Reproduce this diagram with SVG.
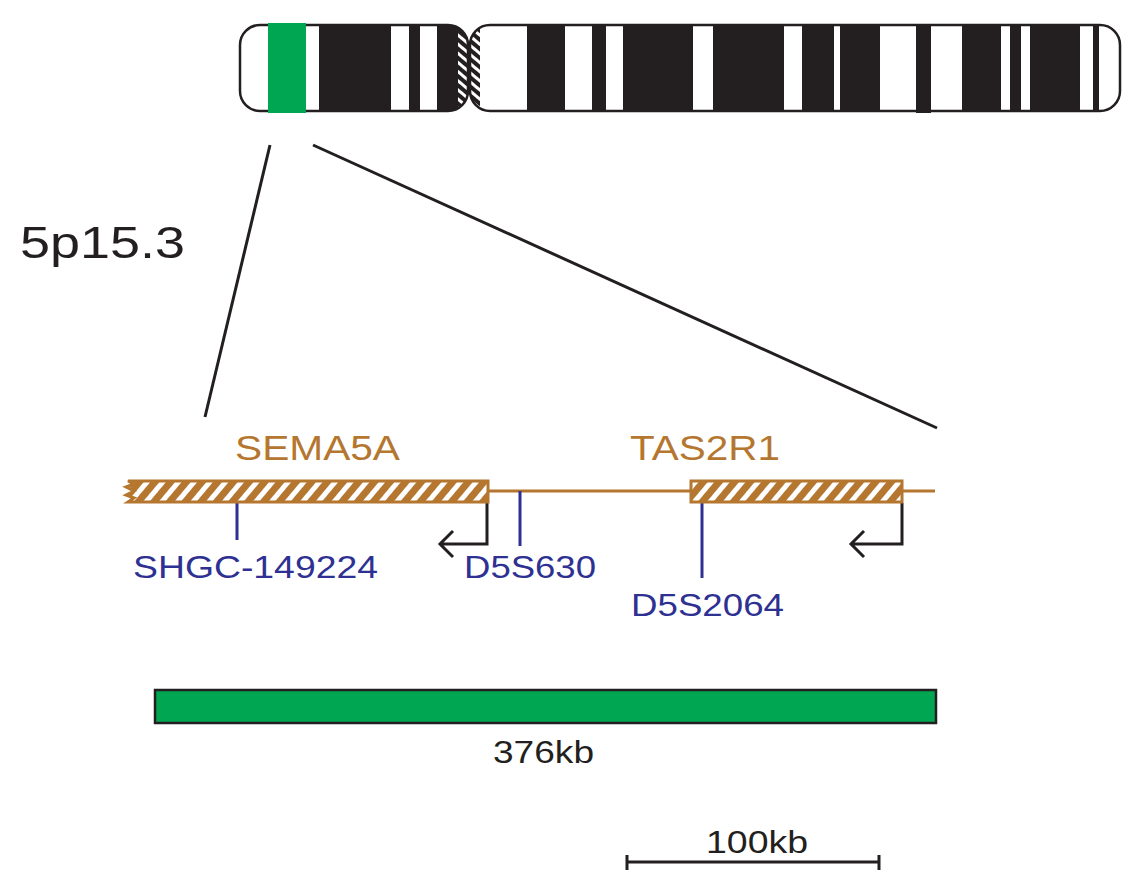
<svg xmlns="http://www.w3.org/2000/svg" width="1147" height="893" viewBox="0 0 1147 893">
<style>
.k{fill:#231f20}
.t{font-family:"Helvetica","Liberation Sans",Arial,sans-serif}
.b{fill:#2e3192;font-size:31px}
.g{fill:#b5772f;font-size:35px}
.bl{stroke:#2e3192;stroke-width:3}
.ar{fill:none;stroke:#231f20;stroke-width:3}
</style>
<defs>
<pattern id="h" width="12" height="12" patternUnits="userSpaceOnUse" patternTransform="rotate(40)">
<rect width="12" height="12" fill="#b5772f"/><rect width="5" height="12" fill="#fff"/>
</pattern>
<pattern id="hk" width="7" height="7" patternUnits="userSpaceOnUse" patternTransform="rotate(-50)">
<rect width="7" height="7" fill="#231f20"/><rect width="3" height="7" fill="#fff"/>
</pattern>
<clipPath id="la"><rect x="240" y="25" width="228" height="86" rx="20"/></clipPath>
<clipPath id="ra"><rect x="470" y="25" width="650" height="86" rx="20"/></clipPath>
</defs>
<g id="chromosome">
<g clip-path="url(#la)">
<rect x="240" y="25" width="228" height="86" fill="#fff"/>
<rect class="k" x="319" y="25" width="72" height="86"/>
<rect class="k" x="409" y="25" width="11" height="86"/>
<rect class="k" x="437" y="25" width="22" height="86"/>
<rect fill="url(#hk)" x="458" y="25" width="10" height="86"/>
</g>
<rect x="240" y="25" width="228" height="86" rx="20" fill="none" stroke="#231f20" stroke-width="2.5"/>
<g clip-path="url(#ra)">
<rect x="470" y="25" width="650" height="86" fill="#fff"/>
<rect fill="url(#hk)" x="470" y="25" width="10" height="86"/>
<rect class="k" x="527" y="25" width="38" height="86"/>
<rect class="k" x="592" y="25" width="14" height="86"/>
<rect class="k" x="623" y="25" width="70" height="86"/>
<rect class="k" x="713" y="25" width="71" height="86"/>
<rect class="k" x="802" y="25" width="32" height="86"/>
<rect class="k" x="840" y="25" width="40" height="86"/>
<rect class="k" x="916" y="25" width="15" height="86"/>
<rect class="k" x="962" y="25" width="39" height="86"/>
<rect class="k" x="1010" y="25" width="11" height="86"/>
<rect class="k" x="1030" y="25" width="50" height="86"/>
<rect class="k" x="1093" y="25" width="6" height="86"/>
</g>
<rect x="470" y="25" width="650" height="86" rx="20" fill="none" stroke="#231f20" stroke-width="2.5"/>
<rect class="k" x="916" y="105" width="15" height="8"/>
<rect x="268" y="23" width="38" height="90" fill="#00a651"/>
</g>
<g id="connectors">
<line x1="270" y1="145" x2="205" y2="417" stroke="#231f20" stroke-width="3"/>
<line x1="313" y1="145" x2="937" y2="428" stroke="#231f20" stroke-width="3"/>
<line x1="489" y1="491" x2="935" y2="491" stroke="#b5772f" stroke-width="3"/>
<line class="bl" x1="237" y1="503" x2="237" y2="540"/>
<line class="bl" x1="520" y1="491" x2="520" y2="546"/>
<line class="bl" x1="702" y1="503" x2="702" y2="578"/>
<path class="ar" d="M487 503V544H440M453 531L440 544L453 557"/>
<path class="ar" d="M902 503V544H851M864 531L851 544L864 557"/>
<path d="M627 862H879M627 855V870M879 855V870" stroke="#231f20" stroke-width="3" fill="none"/>
</g>
<g id="sema5a">
<path d="M128 481H488V502H128L134 498L126 495L134 491L126 487L134 484Z" fill="url(#h)" stroke="#b5772f" stroke-width="3"/>
<text class="t g" x="235" y="460" textLength="165" lengthAdjust="spacingAndGlyphs">SEMA5A</text>
</g>
<g id="tas2r1">
<rect x="691" y="481" width="211" height="21" fill="url(#h)" stroke="#b5772f" stroke-width="3"/>
<text class="t g" x="630" y="460" textLength="150" lengthAdjust="spacingAndGlyphs">TAS2R1</text>
</g>
<g id="markers">
<text class="t b" x="133" y="578" textLength="245" lengthAdjust="spacingAndGlyphs">SHGC-149224</text>
<text class="t b" x="464" y="578" textLength="132" lengthAdjust="spacingAndGlyphs">D5S630</text>
<text class="t b" x="631" y="616" textLength="153" lengthAdjust="spacingAndGlyphs">D5S2064</text>
</g>
<g id="region">
<rect x="155" y="690" width="781" height="33" fill="#00a651" stroke="#231f20" stroke-width="2.5"/>
<text class="t" x="493" y="763" font-size="31" fill="#231f20" textLength="101" lengthAdjust="spacingAndGlyphs">376kb</text>
</g>
<text class="t" x="20" y="258" font-size="45" fill="#231f20" textLength="165" lengthAdjust="spacingAndGlyphs">5p15.3</text>
<text class="t" x="706" y="853" font-size="31" fill="#231f20" textLength="102" lengthAdjust="spacingAndGlyphs">100kb</text>
</svg>
